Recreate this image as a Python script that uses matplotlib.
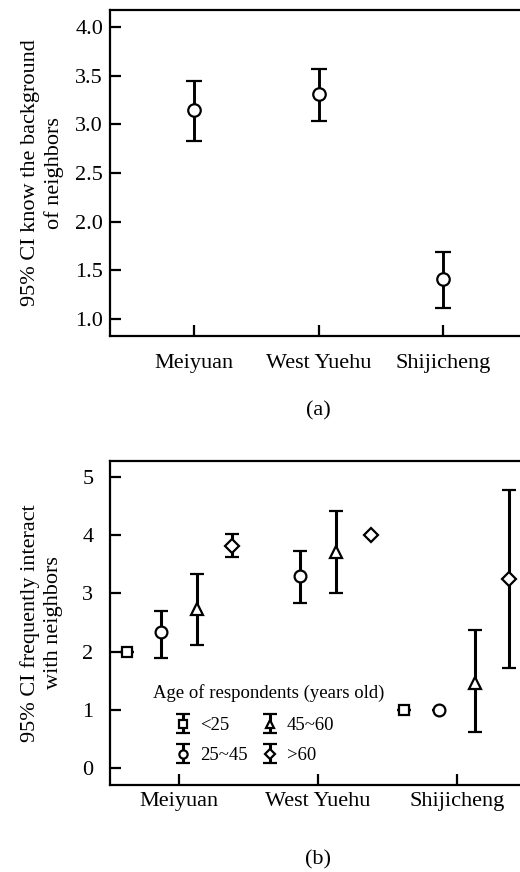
import numpy as np
import matplotlib
matplotlib.use("Agg")
import matplotlib.pyplot as plt

plt.rcParams['font.family'] = ['Liberation Serif', 'DejaVu Serif']

# panel (a): knowing the background of neighbours
sites = ["Meiyuan", "West Yuehu", "Shijicheng"]
know_mean = [3.15, 3.31, 1.41]
know_low = [2.83, 3.03, 1.11]
know_high = [3.45, 3.57, 1.69]

# panel (b): frequency of interaction, by age group
age_groups = ["<25", "25~45", "45~60", ">60"]
age_markers = ["s", "o", "^", "D"]
# rows = age group, columns = site (nan = no data)
inter_mean = [
    [2.00, np.nan, 1.00],
    [2.33, 3.30, 1.00],
    [2.73, 3.71, 1.46],
    [3.81, 4.00, 3.24],
]
inter_low = [
    [2.00, np.nan, 1.00],
    [1.89, 2.83, 1.00],
    [2.11, 3.01, 0.62],
    [3.62, 4.00, 1.72],
]
inter_high = [
    [2.00, np.nan, 1.00],
    [2.69, 3.72, 1.00],
    [3.33, 4.41, 2.37],
    [4.02, 4.00, 4.77],
]
offsets = [-0.38, -0.13, 0.13, 0.38]

FS = 16


def style_axis(ax):
    for s in ax.spines.values():
        s.set_linewidth(1.6)
    ax.tick_params(direction='in', length=8, width=1.6, labelsize=FS)


def main():
    fig = plt.figure(figsize=(5.2, 8.72), dpi=100)

    # ---- (a)
    ax = fig.add_axes([0.2115, 0.6147, 0.802, 0.3739])
    x = np.arange(1, len(sites) + 1)
    m = np.array(know_mean)
    yerr = [m - np.array(know_low), np.array(know_high) - m]
    ax.errorbar(x, m, yerr=yerr, fmt='o', color='black', mfc='white', mec='black',
                ms=9, mew=1.6, elinewidth=2.1, capsize=6, capthick=2.1)
    ax.set_xlim(0.325, 3.675)
    ax.set_ylim(0.825, 4.175)
    ax.set_yticks([1.0, 1.5, 2.0, 2.5, 3.0, 3.5, 4.0])
    ax.set_yticklabels([f"{v:.1f}" for v in ax.get_yticks()])
    ax.set_xticks(x)
    ax.set_xticklabels(sites)
    style_axis(ax)
    ax.tick_params(axis='x', pad=13)
    ax.tick_params(axis='y', pad=5)
    ax.set_ylabel("95% CI know the background\nof neighbors", fontsize=FS, linespacing=1.3)
    ax.yaxis.set_label_coords(-0.11, 0.5)

    # ---- (b)
    ax = fig.add_axes([0.2115, 0.0998, 0.800, 0.3715])
    handles = []
    for i, grp in enumerate(age_groups):
        mm = np.array(inter_mean[i])
        lo = np.array(inter_low[i])
        hi = np.array(inter_high[i])
        ok = ~np.isnan(mm)
        xs = x[ok] + offsets[i]
        ms = {"s": 7.5, "o": 8.5, "^": 9, "D": 7}[age_markers[i]]
        h = ax.errorbar(xs, mm[ok], yerr=[mm[ok] - lo[ok], hi[ok] - mm[ok]],
                        fmt=age_markers[i], color='black', mfc='white', mec='black',
                        ms=ms, mew=1.6, elinewidth=2.2, capsize=5, capthick=2.2,
                        label=grp)
        handles.append(h)
    ax.set_xlim(0.5, 3.5)
    ax.set_ylim(-0.29, 5.27)
    ax.set_yticks([0, 1, 2, 3, 4, 5])
    ax.set_xticks(x)
    ax.set_xticklabels(sites)
    style_axis(ax)
    ax.tick_params(axis='x', pad=5)
    ax.tick_params(axis='y', pad=12)
    ax.set_ylabel("95% CI frequently interact\nwith neighbors", fontsize=FS, linespacing=1.3)
    ax.yaxis.set_label_coords(-0.113, 0.5)

    # legend title written separately so the entries can sit where they do in the original
    ax.text(0.103, 0.284, "Age of respondents (years old)", transform=ax.transAxes,
            ha='left', va='center', fontsize=13.5)
    ax.legend(handles=handles, labels=age_groups, ncol=2, frameon=False,
              fontsize=13.5, loc='upper left', bbox_to_anchor=(0.157, 0.21),
              borderaxespad=0, borderpad=0,
              handlelength=0.8, handletextpad=0.5, columnspacing=0.8,
              labelspacing=0.7, markerscale=0.7)

    fig.text(0.612, 1 - 411 / 872, "(a)", ha='center', va='center', fontsize=FS)
    fig.text(0.612, 1 - 860 / 872, "(b)", ha='center', va='center', fontsize=FS)

    fig.savefig("out.png", dpi=100)
    plt.close(fig)


if __name__ == "__main__":
    main()
